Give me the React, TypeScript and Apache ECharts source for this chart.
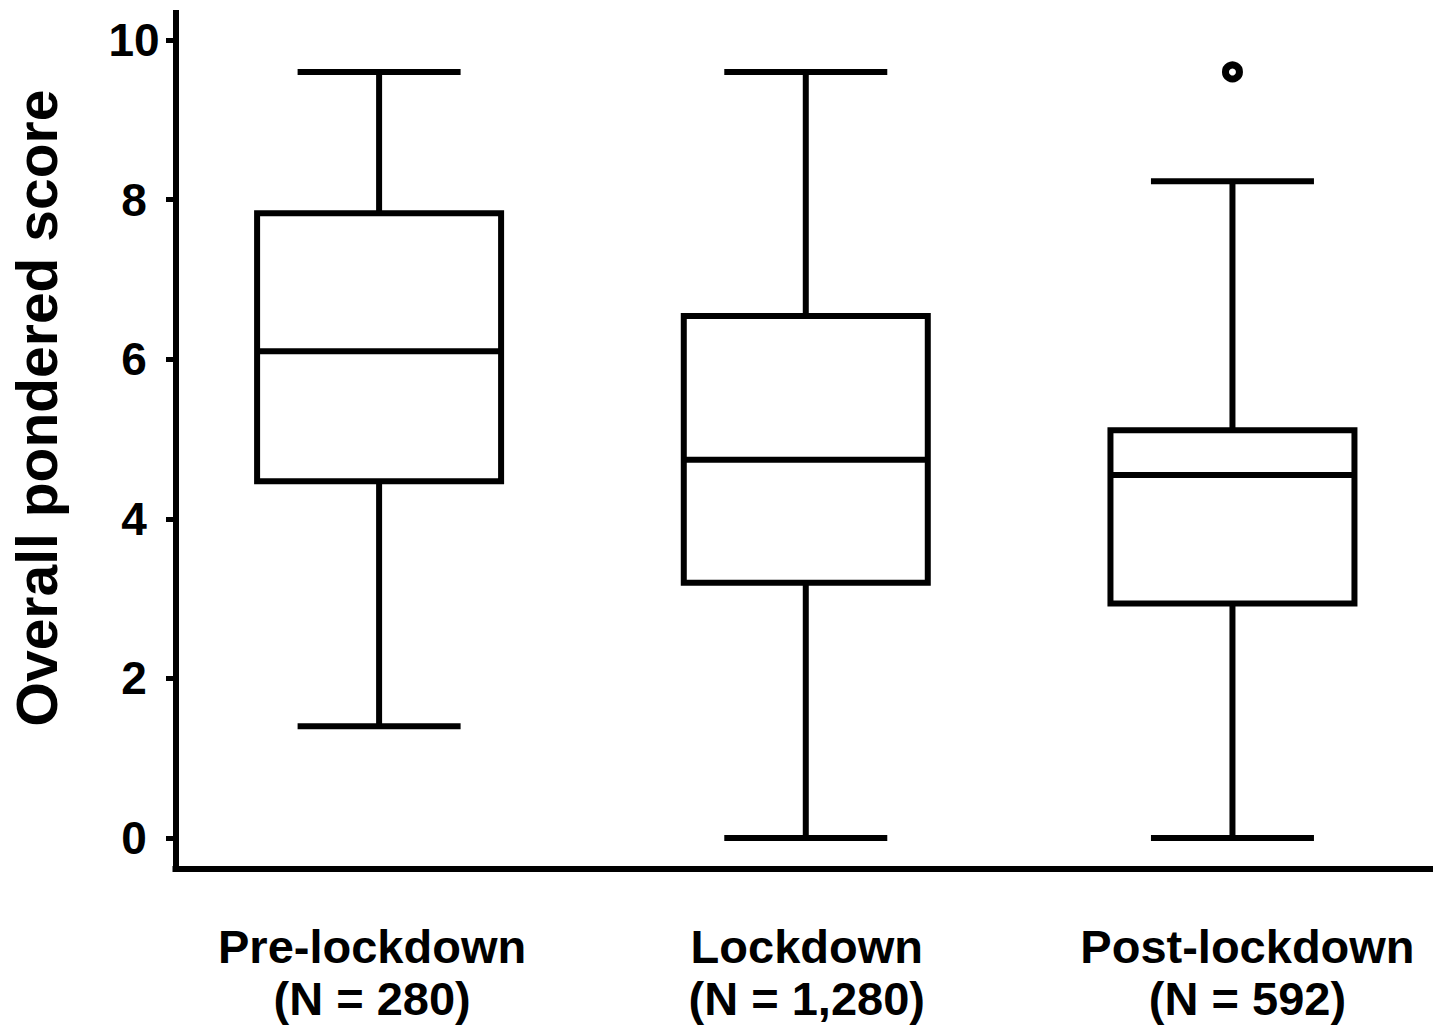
import React, { useEffect, useRef } from "react";
import * as echarts from "echarts";

const categories = ["Pre-lockdown", "Lockdown", "Post-lockdown"];
const sampleSizes = ["(N = 280)", "(N = 1,280)", "(N = 592)"];
const whiskerLow = [1.4, 0, 0];
const quartile1 = [4.47, 3.2, 2.94];
const medians = [6.1, 4.74, 4.55];
const quartile3 = [7.83, 6.54, 5.11];
const whiskerHigh = [9.6, 9.6, 8.23];
const outliers: [number, number][] = [[2, 9.6]];
const yMin = 0;
const yMax = 10;
const yInterval = 2;

const FONT = '"Liberation Sans", Arial, Helvetica, sans-serif';

export default function App() {
  const ref = useRef<HTMLDivElement>(null);
  useEffect(() => {
    document.body.style.margin = "0";
    if (!ref.current) return;
    const chart = echarts.init(ref.current, null, { renderer: "svg" });
    const boxData = categories.map((_, i) => [
      i,
      whiskerLow[i],
      quartile1[i],
      medians[i],
      quartile3[i],
      whiskerHigh[i],
    ]);
    const labelBase = {
      fontSize: 47,
      fontWeight: "bold",
      fontFamily: FONT,
      color: "#000",
      lineHeight: 52,
    };
    const option: any = {
      animation: false,
      backgroundColor: "#fff",
      grid: [
        { left: 175.5, right: 10, top: 13, bottom: 162.5 },
        { left: 175.5, right: 7, top: 40, bottom: 193 },
      ],
      xAxis: [
        {
          gridIndex: 0,
          type: "value",
          min: 0,
          max: 1,
          axisLine: { show: true, onZero: false, lineStyle: { color: "#000", width: 6, cap: "square" } },
          axisTick: { show: false },
          axisLabel: { show: false },
          splitLine: { show: false },
        },
        {
          gridIndex: 1,
          type: "value",
          min: -0.476,
          max: 2.47,
          axisLine: { show: false, onZero: false },
          axisTick: { show: false },
          splitLine: { show: false },
          axisLabel: {
            show: true,
            margin: 82,
            showMinLabel: false,
            showMaxLabel: false,
            formatter: (v: number) => {
              const i = Math.round(v);
              if (Math.abs(v - i) > 1e-6 || i < 0 || i >= categories.length) return "";
              return `{c${i}|${categories[i]}}\n{c${i}|${sampleSizes[i]}}`;
            },
            rich: {
              c0: { ...labelBase, padding: [0, 14, 0, 0] },
              c1: { ...labelBase, padding: [0, 0, 0, 2] },
              c2: { ...labelBase, padding: [0, 0, 0, 30] },
            },
          },
        },
      ],
      yAxis: [
        {
          gridIndex: 0,
          type: "value",
          min: 0,
          max: 1,
          axisLine: { show: true, onZero: false, lineStyle: { color: "#000", width: 6, cap: "square" } },
          axisTick: { show: false },
          axisLabel: { show: false },
          splitLine: { show: false },
        },
        {
          gridIndex: 1,
          type: "value",
          min: yMin,
          max: yMax,
          interval: yInterval,
          axisLine: { show: false, onZero: false },
          axisTick: { show: true, length: 10, lineStyle: { color: "#000", width: 5 } },
          splitLine: { show: false },
          axisLabel: {
            fontSize: 46,
            fontWeight: "bold",
            fontFamily: FONT,
            color: "#000",
            align: "center",
            margin: 42,
            padding: [0, 0, 12, 0],
          },
          name: "Overall pondered score",
          nameLocation: "middle",
          nameRotate: 90,
          nameGap: 111,
          nameTextStyle: {
            fontSize: 57,
            fontWeight: "bold",
            fontFamily: FONT,
            color: "#000",
            padding: [0, 0, 0, 62],
          },
        },
      ],
      series: [
        {
          type: "custom",
          xAxisIndex: 1,
          yAxisIndex: 1,
          data: boxData,
          encode: { x: 0, y: [1, 2, 3, 4, 5] },
          renderItem: (params: any, api: any) => {
            const x = api.value(0);
            const pLow = api.coord([x, api.value(1)]);
            const pQ1 = api.coord([x, api.value(2)]);
            const pMed = api.coord([x, api.value(3)]);
            const pQ3 = api.coord([x, api.value(4)]);
            const pHigh = api.coord([x, api.value(5)]);
            const cx = pMed[0];
            const hw = 122;
            const cw = 81.5;
            const st = { stroke: "#000", lineWidth: 6, fill: null };
            return {
              type: "group",
              children: [
                { type: "line", shape: { x1: cx, y1: pQ1[1], x2: cx, y2: pLow[1] }, style: st },
                { type: "line", shape: { x1: cx - cw, y1: pLow[1], x2: cx + cw, y2: pLow[1] }, style: st },
                { type: "line", shape: { x1: cx, y1: pQ3[1], x2: cx, y2: pHigh[1] }, style: st },
                { type: "line", shape: { x1: cx - cw, y1: pHigh[1], x2: cx + cw, y2: pHigh[1] }, style: st },
                {
                  type: "rect",
                  shape: { x: cx - hw, y: pQ3[1], width: 2 * hw, height: pQ1[1] - pQ3[1] },
                  style: { fill: "#fff", stroke: "#000", lineWidth: 6 },
                },
                { type: "line", shape: { x1: cx - hw, y1: pMed[1], x2: cx + hw, y2: pMed[1] }, style: st },
              ],
            };
          },
        },
        {
          type: "scatter",
          xAxisIndex: 1,
          yAxisIndex: 1,
          data: outliers,
          symbol: "circle",
          symbolSize: 14,
          itemStyle: { color: "#fff", borderColor: "#000", borderWidth: 7, opacity: 1 },
        },
      ],
    };
    chart.setOption(option);
    return () => chart.dispose();
  }, []);
  return <div ref={ref} style={{ width: 1440, height: 1031 }} />;
}
